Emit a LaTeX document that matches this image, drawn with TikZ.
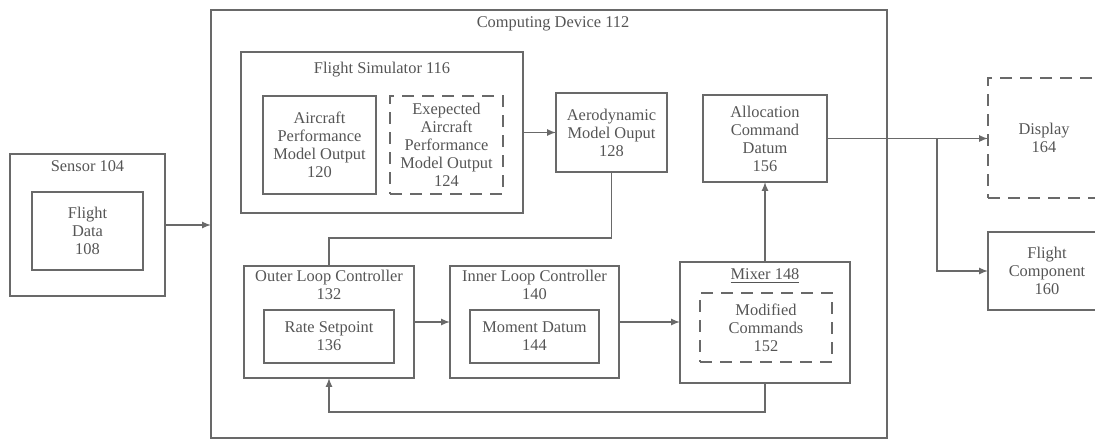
\documentclass[tikz,border=0pt]{standalone}
\usepackage{fontspec}
\setmainfont{Liberation Serif}
\newfontfamily\figfont{Liberation Serif}
\usetikzlibrary{arrows}
\usetikzlibrary{positioning, calc}
\definecolor{linegray}{RGB}{105,105,105}
\definecolor{textgray}{RGB}{85,85,85}

\tikzset{
blk/.style={draw=linegray, line width=0.55pt, inner sep=0pt, outer sep=0pt, align=center, text=textgray},
dblk/.style={blk, dash pattern=on 6pt off 4pt},
sz/.style 2 args={minimum width=#1*0.5pt, minimum height=#2*0.5pt},
ttl/.style={inner sep=1pt, align=center, text=textgray},
conn/.style={draw=linegray, line width=0.55pt},
}

\begin{document}
\begin{tikzpicture}[x=0.5pt, y=-0.5pt, font=\figfont\fontsize{8.2}{9}\selectfont]
\clip (0,0) rectangle (1095,439);

% frames
\node[blk, sz={155}{142}] (sensor) at (87.5,225) {};
\node[blk, sz={676}{428}] (comp) at (549,224) {};
\node[blk, sz={282}{161}] (fsim) at (382,132.5) {};
\node[blk, sz={170}{112}] (outer) at (329,322) {};
\node[blk, sz={169}{112}] (inner) at (534.5,322) {};
\node[blk, sz={170}{121}] (mixer) at (765,322.5) {};

\node[ttl, below=2pt of sensor.north] {Sensor 104};
\node[ttl, below=2pt of comp.north, xshift=2pt] {Computing Device 112};
\node[ttl, below=4pt of fsim.north] {Flight Simulator 116};
\node[ttl, below=1pt of outer.north] {Outer Loop Controller\\132};
\node[ttl, below=1pt of inner.north] {Inner Loop Controller\\140};
\node[ttl, below=2pt of mixer.north] {\underline{Mixer 148}};

% blocks
\node[blk, sz={111}{78}] (fdata) at (87.5,231) {Flight\\Data\\108};
\node[blk, sz={113}{98}] (acpm) at (319.5,145) {Aircraft\\Performance\\Model Output\\120};
\node[dblk, sz={113}{98}] (expm) at (446.5,145) {Exepected\\Aircraft\\Performance\\Model Output\\124};
\node[blk, sz={111}{79}] (aero) at (611.5,132.5) {Aerodynamic\\Model Ouput\\128};
\node[blk, sz={124}{87}] (alloc) at (765,138.5) {Allocation\\Command\\Datum\\156};
\node[blk, sz={130}{53}] (rate) at (329,336.5) {Rate Setpoint\\136};
\node[blk, sz={129}{53}] (moment) at (534.5,336.5) {Moment Datum\\144};
\node[dblk, sz={132}{69}] (modc) at (766,327.5) {Modified\\Commands\\152};
\node[dblk, sz={112}{120}] (disp) at (1044,138) {Display\\164};
\node[blk, sz={118}{78}] (fcomp) at (1047,271) {Flight\\Component\\160};

% connectors
\coordinate (ao) at ($(aero.south)+(0,66)$);
\coordinate (fb) at ($(mixer.south)+(0,29)$);
\coordinate (split) at ($(alloc.east)+(110,0)$);

\draw[conn,-latex] (sensor.east) -- (sensor.east -| comp.west);
\draw[conn,-latex] (fsim.east) -- (fsim.east -| aero.west);
\draw[conn] (aero.south) -- (ao) -| (outer.north);
\draw[conn,-latex] (outer.east) -- (outer.east -| inner.west);
\draw[conn,-latex] (inner.east) -- (inner.east -| mixer.west);
\draw[conn,-latex] (mixer.south) -- (fb) -| (outer.south);
\draw[conn,-latex] (mixer.north) -- (alloc.south);
\draw[conn,-latex] (alloc.east) -- (alloc.east -| disp.west);
\draw[conn,-latex] (split) |- (fcomp.west);

\end{tikzpicture}
\end{document}
